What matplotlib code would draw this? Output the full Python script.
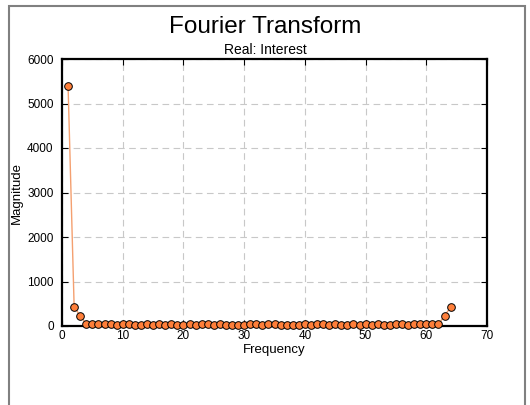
import matplotlib
matplotlib.use("Agg")
import matplotlib.pyplot as plt
from matplotlib.patches import Rectangle

plt.rcParams['font.family'] = ['Liberation Sans', 'DejaVu Sans']

# frequency index and magnitude
freq = list(range(1, 65))
magnitude = [5400, 430, 230,
             45, 45, 48, 42, 40, 15, 45, 42, 15, 20,
             40, 15, 45, 15, 45, 15, 20, 40, 15, 45,
             45, 20, 45, 20, 20, 20, 15, 40, 45, 20,
             45, 40, 20, 20, 15, 20, 40, 15, 40, 45,
             20, 40, 15, 20, 40, 20, 45, 15, 40, 20,
             15, 45, 40, 15, 45, 40, 40, 40, 40,
             230, 420]

fig = plt.figure(figsize=(5.3, 4.05), dpi=100)
# grey frame around the whole chart area
fig.patches.append(Rectangle((9 / 530, -0.1), (525 - 9) / 530, 1.1 - 6 / 405,
                             transform=fig.transFigure, fill=False,
                             edgecolor='#808080', linewidth=1.5))

ax = fig.add_axes([62 / 530, 1 - 326 / 405, (487 - 62) / 530, (326 - 59) / 405])
ax.plot(freq, magnitude, color='#f4a070', linewidth=1, zorder=2)
ax.plot(freq, magnitude, linestyle='none', marker='o', markersize=5.5,
        markerfacecolor='#ff7f3a', markeredgecolor='black', markeredgewidth=0.7,
        zorder=3, clip_on=False)

ax.set_xlim(0, 70)
ax.set_ylim(0, 6000)
ax.set_xticks(range(0, 71, 10))
ax.set_yticks(range(0, 6001, 1000))
ax.grid(True, linestyle=(0, (6, 4)), color='#c8c8c8', linewidth=0.8)
ax.set_axisbelow(True)
ax.tick_params(direction='in', length=4, labelsize=8.5, top=True, right=True,
               color='black')
ax.tick_params(axis='x', pad=3)
ax.tick_params(axis='y', pad=6)
for s in ax.spines.values():
    s.set_linewidth(1.6)

ax.set_xlabel('Frequency', fontsize=9.5)
ax.set_ylabel('Magnitude', fontsize=9.5)
ax.xaxis.set_label_coords(0.5, (326 - 350) / 267, transform=ax.transAxes)
ax.yaxis.set_label_coords((17 - 62) / 425, 0.5, transform=ax.transAxes)
ax.xaxis.label.set_va('center')
ax.yaxis.label.set_va('center')

fig.text(0.5, 1 - 33 / 405, 'Fourier Transform', ha='center', va='baseline', fontsize=17.5)
fig.text(0.5, 1 - 53.5 / 405, 'Real: Interest', ha='center', va='baseline', fontsize=10)

fig.savefig('out.png', dpi=100)
